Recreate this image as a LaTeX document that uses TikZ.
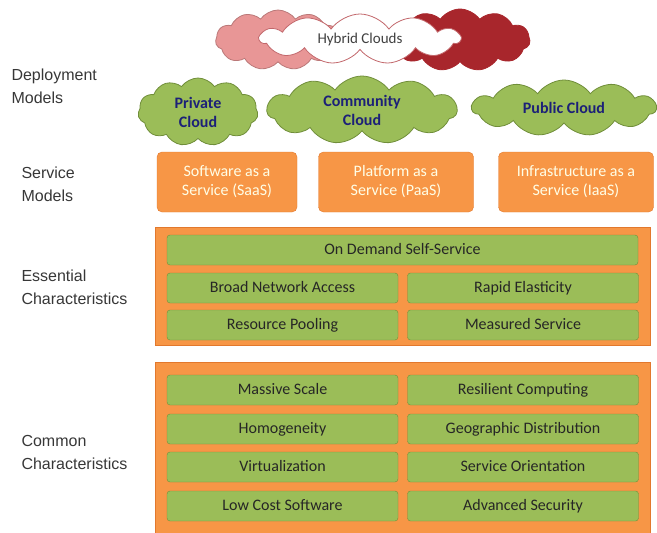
\documentclass[tikz,border=0pt]{standalone}
\usepackage{fontspec}
\setmainfont{Carlito}
\newfontfamily\sidefont{Liberation Sans}
\usetikzlibrary{shapes.symbols,positioning}

\definecolor{boxorange}{RGB}{247,150,70}
\definecolor{edgeorange}{RGB}{226,120,45}
\definecolor{leafgreen}{RGB}{155,189,88}
\definecolor{edgegreen}{RGB}{112,142,58}
\definecolor{cloudblue}{RGB}{28,32,120}
\definecolor{rosepink}{RGB}{232,150,150}
\definecolor{darkred}{RGB}{168,38,44}
\definecolor{sidegray}{RGB}{55,55,55}

\begin{document}
\begin{tikzpicture}[
    x = 1pt, y = -1pt, % pixel-like grid, y going down
    puff/.style = {cloud, cloud puffs=11, cloud puff arc=110, cloud ignores aspect,
        draw, thick, inner sep=0pt},
    greencloud/.style = {puff, fill=leafgreen, draw=edgegreen,
        text=cloudblue, font=\bfseries\fontsize{16}{19}\selectfont, align=center},
    service/.style = {draw=edgeorange, fill=boxorange, rounded corners=5pt,
        minimum width=140pt, minimum height=60pt, text=white!90!yellow,
        font=\fontsize{16}{19}\selectfont, align=center},
    panel/.style = {draw=edgeorange, fill=boxorange, line width=1pt},
    trait/.style = {draw=edgegreen, fill=leafgreen, rounded corners=3pt,
        minimum width=231pt, minimum height=30pt, text height=11pt, text depth=3pt,
        text=black!85, font=\fontsize{16}{18}\selectfont},
    side/.style = {anchor=west, align=left, text=sidegray,
        font=\sidefont\fontsize{16}{23}\selectfont}
    ]
    \useasboundingbox (0,0) rectangle (657,533);

    % hybrid clouds at the top
    \node[puff, fill=rosepink, draw=rosepink!80!black, minimum width=125pt, minimum height=60pt] (pink) at (278,40) {};
    \node[puff, fill=darkred, draw=darkred, minimum width=140pt, minimum height=62pt] (red) at (460,40) {};
    \node[puff, fill=white, draw=darkred!70, minimum width=200pt, minimum height=50pt,
        text=black!75, font=\fontsize{15}{17}\selectfont] (hybrid) at (360,39) {Hybrid Clouds};

    % deployment models
    \node[greencloud, minimum width=120pt, minimum height=68pt] (private) at (198,112) {Private\\Cloud};
    \node[greencloud, minimum width=190pt, minimum height=68pt] (community) at (362,110) {Community\\Cloud};
    \node[greencloud, minimum width=184pt, minimum height=56pt] (public) at (564,108) {Public Cloud};

    % service models
    \node[service] (saas) at (227,182) {Software as a\\Service (SaaS)};
    \node[service, minimum width=155pt] (paas) at (396,182) {Platform as a\\Service (PaaS)};
    \node[service, minimum width=155pt] (iaas) at (576,182) {Infrastructure as a\\Service (IaaS)};

    % essential characteristics
    \draw[panel] (155,227) rectangle (650,345);
    \node[trait, minimum width=471pt] (ondemand) at (402.5,250) {On Demand Self-Service};
    \node[trait] (broad) at (282.5,288) {Broad Network Access};
    \node[trait] (rapid) at (523,288) {Rapid Elasticity};
    \node[trait] (pooling) at (282.5,325) {Resource Pooling};
    \node[trait] (measured) at (523,325) {Measured Service};

    % common characteristics
    \draw[panel] (155,362) rectangle (650,536);
    \node[trait] (massive) at (282.5,390) {Massive Scale};
    \node[trait] (resilient) at (523,390) {Resilient Computing};
    \node[trait] (homog) at (282.5,429) {Homogeneity};
    \node[trait] (geo) at (523,429) {Geographic Distribution};
    \node[trait] (virt) at (282.5,467) {Virtualization};
    \node[trait] (orient) at (523,467) {Service Orientation};
    \node[trait] (lowcost) at (282.5,506) {Low Cost Software};
    \node[trait] (security) at (523,506) {Advanced Security};

    % row labels on the left
    \node[side] (deploy) at (8,86) {Deployment\\Models};
    \node[side] (servlab) at (18,184) {Service\\Models};
    \node[side] (esslab) at (18,287) {Essential\\Characteristics};
    \node[side] (comlab) at (18,452) {Common\\Characteristics};
\end{tikzpicture}
\end{document}
